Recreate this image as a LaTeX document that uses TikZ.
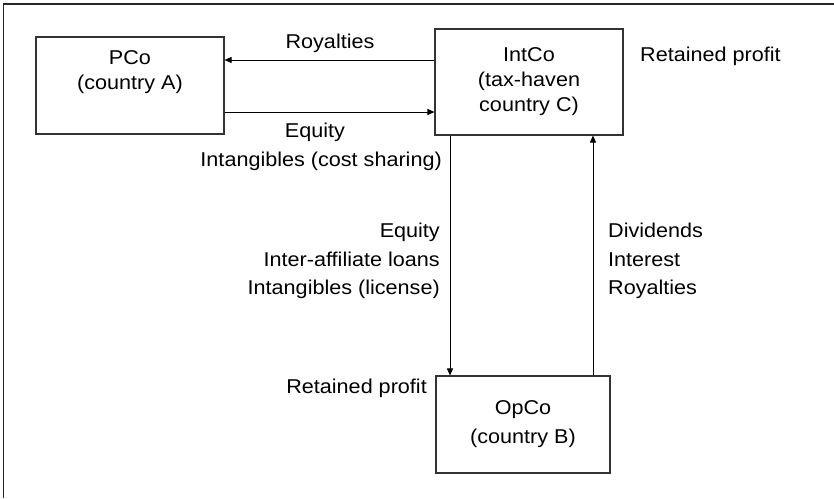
\documentclass[tikz,border=0pt]{standalone}
\usepackage{fontspec}
\setmainfont{Liberation Sans}[FakeStretch=1.08]
\usetikzlibrary{arrows.meta}

\begin{document}
\begin{tikzpicture}[x=1pt,y=-1pt,
    firm/.style={draw=black!80,line width=1.1pt,inner sep=0pt},
    txt/.style={inner sep=0pt,font=\fontsize{20}{25}\selectfont},
    lbl/.style={inner sep=0pt,font=\fontsize{20}{28.5}\selectfont},
    flow/.style={-{Triangle[length=7pt,width=6pt]},line width=0.9pt}]
    \useasboundingbox (0,0) rectangle (834,498);
    \draw[line width=1.6pt,black!85] (834,4) -- (3.5,4) -- (3.5,498);
    % companies
    \node[firm,minimum width=188pt,minimum height=97pt] (pco) at (130,85.5) {};
    \node[txt,align=center,anchor=north] (pcotxt) at (130,50) {PCo\\(country A)};
    \node[firm,txt,align=center,minimum width=188pt,minimum height=106pt] (intco) at (529,82) {IntCo\\(tax-haven\\country C)};
    \node[firm,font=\fontsize{20}{29}\selectfont,align=center,minimum width=174pt,minimum height=97pt] (opco) at (523,424.5) {OpCo\\(country B)};
    % flows
    \coordinate (roy) at ([yshift=22pt]intco.west);
    \draw[flow] (roy) -- (roy -| pco.east);
    \coordinate (eq) at ([yshift=-26.5pt]pco.east);
    \draw[flow] (eq) -- (eq -| intco.west);
    \coordinate (down) at ([xshift=-79pt]intco.south);
    \draw[flow] (down) -- (down |- opco.north);
    \coordinate (up) at ([xshift=70pt]opco.north);
    \draw[flow] (up) -- (up |- intco.south);
    % labels
    \node[lbl,anchor=base] (roylbl) at (330,48) {Royalties};
    \node[lbl,anchor=base west] (retc) at (640,61) {Retained profit};
    \node[lbl,anchor=base] (eqlbl) at (315,137) {Equity};
    \node[lbl,anchor=base east] (costlbl) at (442,166) {Intangibles (cost sharing)};
    \node[lbl,align=right,anchor=north east] (downlbl) at (440,223) {Equity\\Inter-affiliate loans\\Intangibles (license)};
    \node[lbl,align=left,anchor=north west] (uplbl) at (608,223) {Dividends\\Interest\\Royalties};
    \node[lbl,anchor=base east] (retb) at (427,393) {Retained profit};
\end{tikzpicture}
\end{document}
